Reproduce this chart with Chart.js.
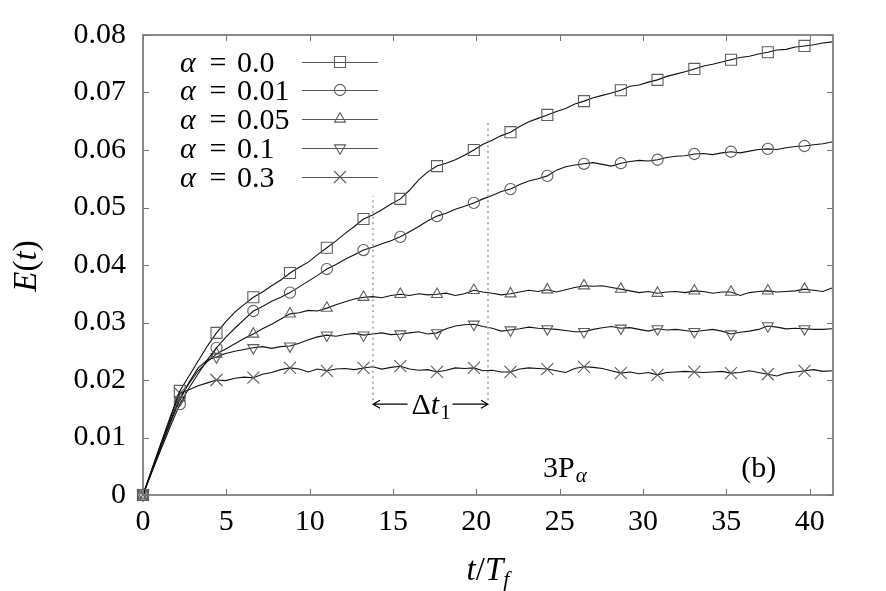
<!DOCTYPE html>
<html><head><meta charset="utf-8">
<script src="https://cdn.jsdelivr.net/npm/chart.js@4"></script>
<style>html,body{margin:0;padding:0;background:#fff;}#wrap{width:886px;height:591px;}</style>
</head><body><div id="wrap"><canvas id="c" width="886" height="591"></canvas></div>
<script>
// ---------- data ----------
const tValues = [0,0.55,1.10,1.65,2.21,2.76,3.31,3.86,4.41,4.96,5.51,6.06,6.62,7.17,7.72,8.27,8.82,9.37,9.92,10.47,
11.03,11.58,12.13,12.68,13.23,13.78,14.33,14.88,15.44,15.99,16.54,17.09,17.64,18.19,18.74,19.29,19.85,20.40,20.95,21.50,
22.05,22.60,23.15,23.70,24.26,24.81,25.36,25.91,26.46,27.01,27.56,28.11,28.67,29.22,29.77,30.32,30.87,31.42,31.97,32.52,
33.08,33.63,34.18,34.73,35.28,35.83,36.38,36.93,37.49,38.04,38.59,39.14,39.69,40.24,40.79,41.34];

const alphaLabels = ['0.0','0.01','0.05','0.1','0.3'];

const E_alpha000 = [0,0.0046,0.0092,0.0137,0.0181,0.0207,0.0233,0.0259,0.0282,0.0301,0.0318,0.0331,0.0344,0.0353,0.0364,0.0374,0.0386,0.0396,0.0405,0.0418,
0.0430,0.0442,0.0455,0.0467,0.0480,0.0487,0.0496,0.0506,0.0515,0.0530,0.0548,0.0562,0.0572,0.0577,0.0583,0.0591,0.0600,0.0610,0.0617,0.0625,
0.0631,0.0641,0.0649,0.0655,0.0661,0.0667,0.0672,0.0680,0.0685,0.0691,0.0695,0.0699,0.0704,0.0711,0.0713,0.0718,0.0722,0.0728,0.0732,0.0736,
0.0741,0.0746,0.0749,0.0753,0.0757,0.0761,0.0763,0.0767,0.0770,0.0774,0.0775,0.0779,0.0781,0.0783,0.0786,0.0788];

const E_alpha001 = [0,0.0041,0.0081,0.0120,0.0158,0.0186,0.0211,0.0235,0.0256,0.0274,0.0290,0.0305,0.0320,0.0328,0.0337,0.0344,0.0352,0.0362,0.0372,0.0382,
0.0393,0.0401,0.0410,0.0418,0.0426,0.0431,0.0437,0.0442,0.0449,0.0458,0.0467,0.0477,0.0485,0.0490,0.0497,0.0502,0.0508,0.0515,0.0521,0.0528,
0.0532,0.0540,0.0546,0.0550,0.0555,0.0565,0.0571,0.0574,0.0576,0.0578,0.0575,0.0572,0.0577,0.0580,0.0582,0.0581,0.0583,0.0587,0.0589,0.0590,
0.0593,0.0594,0.0592,0.0595,0.0597,0.0595,0.0598,0.0601,0.0602,0.0601,0.0604,0.0606,0.0607,0.0609,0.0611,0.0614];

const E_alpha005 = [0,0.0044,0.0087,0.0129,0.0169,0.0194,0.0216,0.0232,0.0245,0.0254,0.0263,0.0272,0.0280,0.0289,0.0297,0.0306,0.0315,0.0317,0.0321,0.0320,
0.0325,0.0331,0.0336,0.0341,0.0344,0.0345,0.0343,0.0347,0.0349,0.0347,0.0350,0.0348,0.0349,0.0351,0.0347,0.0350,0.0356,0.0353,0.0351,0.0348,
0.0350,0.0353,0.0356,0.0354,0.0357,0.0353,0.0357,0.0361,0.0364,0.0363,0.0364,0.0361,0.0358,0.0355,0.0352,0.0354,0.0351,0.0353,0.0354,0.0352,
0.0355,0.0354,0.0351,0.0353,0.0353,0.0347,0.0352,0.0354,0.0355,0.0353,0.0354,0.0355,0.0358,0.0356,0.0354,0.0360];

const E_alpha010 = [0,0.0043,0.0085,0.0126,0.0165,0.0196,0.0221,0.0235,0.0240,0.0246,0.0250,0.0253,0.0256,0.0258,0.0255,0.0258,0.0259,0.0264,0.0270,0.0275,
0.0278,0.0276,0.0279,0.0281,0.0278,0.0280,0.0282,0.0279,0.0280,0.0282,0.0284,0.0280,0.0282,0.0289,0.0294,0.0296,0.0297,0.0293,0.0290,0.0285,
0.0287,0.0289,0.0292,0.0290,0.0289,0.0288,0.0286,0.0284,0.0284,0.0288,0.0291,0.0293,0.0290,0.0291,0.0288,0.0285,0.0289,0.0287,0.0288,0.0286,
0.0284,0.0286,0.0288,0.0285,0.0280,0.0283,0.0285,0.0288,0.0294,0.0292,0.0289,0.0290,0.0289,0.0288,0.0288,0.0289];

const E_alpha030 = [0,0.0046,0.0091,0.0134,0.0177,0.0183,0.0190,0.0195,0.0200,0.0199,0.0203,0.0205,0.0204,0.0210,0.0213,0.0218,0.0221,0.0219,0.0214,0.0219,
0.0216,0.0219,0.0220,0.0218,0.0221,0.0223,0.0219,0.0222,0.0224,0.0219,0.0217,0.0218,0.0214,0.0217,0.0221,0.0220,0.0221,0.0216,0.0217,0.0214,
0.0214,0.0219,0.0221,0.0220,0.0219,0.0216,0.0213,0.0220,0.0223,0.0222,0.0220,0.0216,0.0212,0.0214,0.0211,0.0213,0.0209,0.0213,0.0214,0.0215,
0.0214,0.0213,0.0214,0.0215,0.0212,0.0213,0.0216,0.0213,0.0210,0.0207,0.0212,0.0214,0.0216,0.0218,0.0215,0.0216];

const xTicks = [0,5,10,15,20,25,30,35,40];
const yTicks = [0,0.01,0.02,0.03,0.04,0.05,0.06,0.07,0.08];
const deltaT1Bounds = [13.8, 20.7];

// ---------- styles ----------
const SERIF = '"Liberation Serif", "Times New Roman", serif';
const FS = 30;
const markerStyles = [
  {pointStyle:'rect', radius:7.8, rotation:0},
  {pointStyle:'circle', radius:5.6, rotation:0},
  {pointStyle:'triangle', radius:6.3, rotation:0},
  {pointStyle:'triangle', radius:6.3, rotation:180},
  {pointStyle:'crossRot', radius:8.5, rotation:0}
];
const seriesValues = [E_alpha000, E_alpha001, E_alpha005, E_alpha010, E_alpha030];
const MARK_EVERY = 4;
const MARKER_COLOR = '#5e5e5e';

const datasets = seriesValues.map((vals, k) => ({
  label: 'α = ' + alphaLabels[k],
  data: tValues.map((t, i) => ({x: t, y: vals[i]})),
  borderColor: '#111',
  borderWidth: 1.1,
  tension: 0,
  pointStyle: markerStyles[k].pointStyle,
  pointRotation: markerStyles[k].rotation,
  pointRadius: ctx => (ctx.dataIndex % MARK_EVERY === 0 ? markerStyles[k].radius : 0),
  pointHoverRadius: 0,
  pointBorderColor: MARKER_COLOR,
  pointBackgroundColor: 'rgba(0,0,0,0)',
  pointBorderWidth: 1.1,
  clip: 12
}));

const decorPlugin = {
  id: 'decor',
  afterDatasetsDraw(chart) {
    const {ctx, chartArea: a, scales: {x, y}} = chart;
    ctx.save();
    // frame
    ctx.strokeStyle = '#6e6e6e';
    ctx.lineWidth = 1.6;
    ctx.strokeRect(a.left, a.top, a.right - a.left, a.bottom - a.top);
    // inward ticks
    ctx.lineWidth = 1;
    ctx.strokeStyle = '#777';
    const L = 6;
    xTicks.forEach(v => {
      const px = Math.round(x.getPixelForValue(v)) + 0.5;
      ctx.beginPath();
      ctx.moveTo(px, a.bottom); ctx.lineTo(px, a.bottom - L);
      ctx.moveTo(px, a.top); ctx.lineTo(px, a.top + L);
      ctx.stroke();
    });
    yTicks.forEach(v => {
      const py = Math.round(y.getPixelForValue(v)) + 0.5;
      ctx.beginPath();
      ctx.moveTo(a.left, py); ctx.lineTo(a.left + L, py);
      ctx.moveTo(a.right, py); ctx.lineTo(a.right - L, py);
      ctx.stroke();
    });
    // delta t annotation
    ctx.strokeStyle = '#a0a0a0';
    ctx.lineWidth = 1.6;
    ctx.setLineDash([2, 3.5]);
    const x1 = x.getPixelForValue(deltaT1Bounds[0]);
    const x2 = x.getPixelForValue(deltaT1Bounds[1]);
    ctx.beginPath();
    ctx.moveTo(x1, y.getPixelForValue(0.0165)); ctx.lineTo(x1, y.getPixelForValue(0.052));
    ctx.moveTo(x2, y.getPixelForValue(0.0165)); ctx.lineTo(x2, y.getPixelForValue(0.065));
    ctx.stroke();
    ctx.setLineDash([]);
    const ay = y.getPixelForValue(0.0158);
    const mid = (x1 + x2) / 2;
    ctx.strokeStyle = '#000';
    ctx.lineWidth = 1.1;
    ctx.beginPath();
    ctx.moveTo(x1, ay); ctx.lineTo(mid - 23, ay);
    ctx.moveTo(x1 + 7, ay - 4); ctx.lineTo(x1, ay); ctx.lineTo(x1 + 7, ay + 4);
    ctx.moveTo(mid + 22, ay); ctx.lineTo(x2, ay);
    ctx.moveTo(x2 - 7, ay - 4); ctx.lineTo(x2, ay); ctx.lineTo(x2 - 7, ay + 4);
    ctx.stroke();
    ctx.fillStyle = '#000';
    ctx.textBaseline = 'alphabetic';
    ctx.textAlign = 'left';
    let tx = mid - 19;
    const base = ay + 10;
    ctx.font = FS + 'px ' + SERIF; ctx.fillText('Δ', tx, base); tx += ctx.measureText('Δ').width;
    ctx.font = 'italic ' + FS + 'px ' + SERIF; ctx.fillText('t', tx, base); tx += ctx.measureText('t').width;
    ctx.font = '21px ' + SERIF; ctx.fillText('1', tx + 1, base + 5);
    // 3P_alpha and (b)
    const ly = y.getPixelForValue(0.0049) + 10;
    let px = x.getPixelForValue(24.0);
    ctx.font = FS + 'px ' + SERIF; ctx.fillText('3P', px, ly); px += ctx.measureText('3P').width;
    ctx.font = 'italic 21px ' + SERIF; ctx.fillText('α', px + 1, ly + 5);
    ctx.font = FS + 'px ' + SERIF; ctx.textAlign = 'center';
    ctx.fillText('(b)', x.getPixelForValue(36.95), ly);
    // legend
    const rows = [62, 90, 119, 148, 177];
    rows.forEach((ry, k) => {
      ctx.textAlign = 'left';
      ctx.fillStyle = '#000';
      ctx.font = 'italic ' + FS + 'px ' + SERIF; ctx.fillText('α', 180, ry + 10);
      ctx.font = FS + 'px ' + SERIF;
      ctx.textAlign = 'center'; ctx.fillText('=', 218, ry + 10);
      ctx.textAlign = 'left'; ctx.fillText(alphaLabels[k], 237, ry + 10);
      ctx.strokeStyle = '#555';
      ctx.lineWidth = 1;
      ctx.beginPath(); ctx.moveTo(302, ry + 0.5); ctx.lineTo(378, ry + 0.5); ctx.stroke();
      ctx.strokeStyle = MARKER_COLOR;
      ctx.fillStyle = 'rgba(0,0,0,0)';
      ctx.lineWidth = 1.1;
      Chart.helpers.drawPoint(ctx, {pointStyle: markerStyles[k].pointStyle, rotation: markerStyles[k].rotation, radius: markerStyles[k].radius, borderWidth: 1.1}, 340, ry);
    });
    // axis titles
    ctx.fillStyle = '#000';
    ctx.textAlign = 'left';
    const parts = [['t','italic 33px '],['/','33px '],['T','italic 33px ']];
    let w = 0;
    parts.forEach(p => { ctx.font = p[1] + SERIF; w += ctx.measureText(p[0]).width; });
    ctx.font = 'italic 22px ' + SERIF; w += ctx.measureText('f').width;
    let sx = (a.left + a.right) / 2 - w / 2;
    const sy = 580;
    parts.forEach(p => { ctx.font = p[1] + SERIF; ctx.fillText(p[0], sx, sy); sx += ctx.measureText(p[0]).width; });
    ctx.font = 'italic 22px ' + SERIF; ctx.fillText('f', sx, sy + 6);
    // y title
    ctx.save();
    ctx.translate(36, 266);
    ctx.rotate(-Math.PI / 2);
    const yp = [['E','italic 33px '],['(','33px '],['t','italic 33px '],[')','33px ']];
    let yw = 0;
    yp.forEach(p => { ctx.font = p[1] + SERIF; yw += ctx.measureText(p[0]).width; });
    let yx = -yw / 2;
    yp.forEach(p => { ctx.font = p[1] + SERIF; ctx.fillText(p[0], yx, 0); yx += ctx.measureText(p[0]).width; });
    ctx.restore();
    ctx.restore();
  }
};

new Chart(document.getElementById('c'), {
  type: 'line',
  data: {datasets},
  options: {
    responsive: false,
    animation: false,
    events: [],
    layout: {padding: {top: 35, right: 53, left: 0, bottom: 0}},
    plugins: {legend: {display: false}, tooltip: {enabled: false}},
    scales: {
      x: {
        type: 'linear', min: 0, max: 41.4,
        grid: {display: false, drawTicks: false},
        border: {display: false},
        afterBuildTicks: s => { s.ticks = xTicks.map(v => ({value: v})); },
        afterFit: s => { s.height = 96; },
        ticks: {font: {family: SERIF, size: FS}, color: '#000', padding: 9, maxRotation: 0, autoSkip: false,
                callback: v => String(v)}
      },
      y: {
        type: 'linear', min: 0, max: 0.08,
        grid: {display: false, drawTicks: false},
        border: {display: false},
        afterBuildTicks: s => { s.ticks = yTicks.map(v => ({value: v})); },
        afterFit: s => { s.width = 143; },
        ticks: {font: {family: SERIF, size: FS}, color: '#000', padding: 17, autoSkip: false,
                callback: v => (v === 0 ? '0' : v.toFixed(2))}
      }
    }
  },
  plugins: [decorPlugin]
});
</script>
</body></html>
